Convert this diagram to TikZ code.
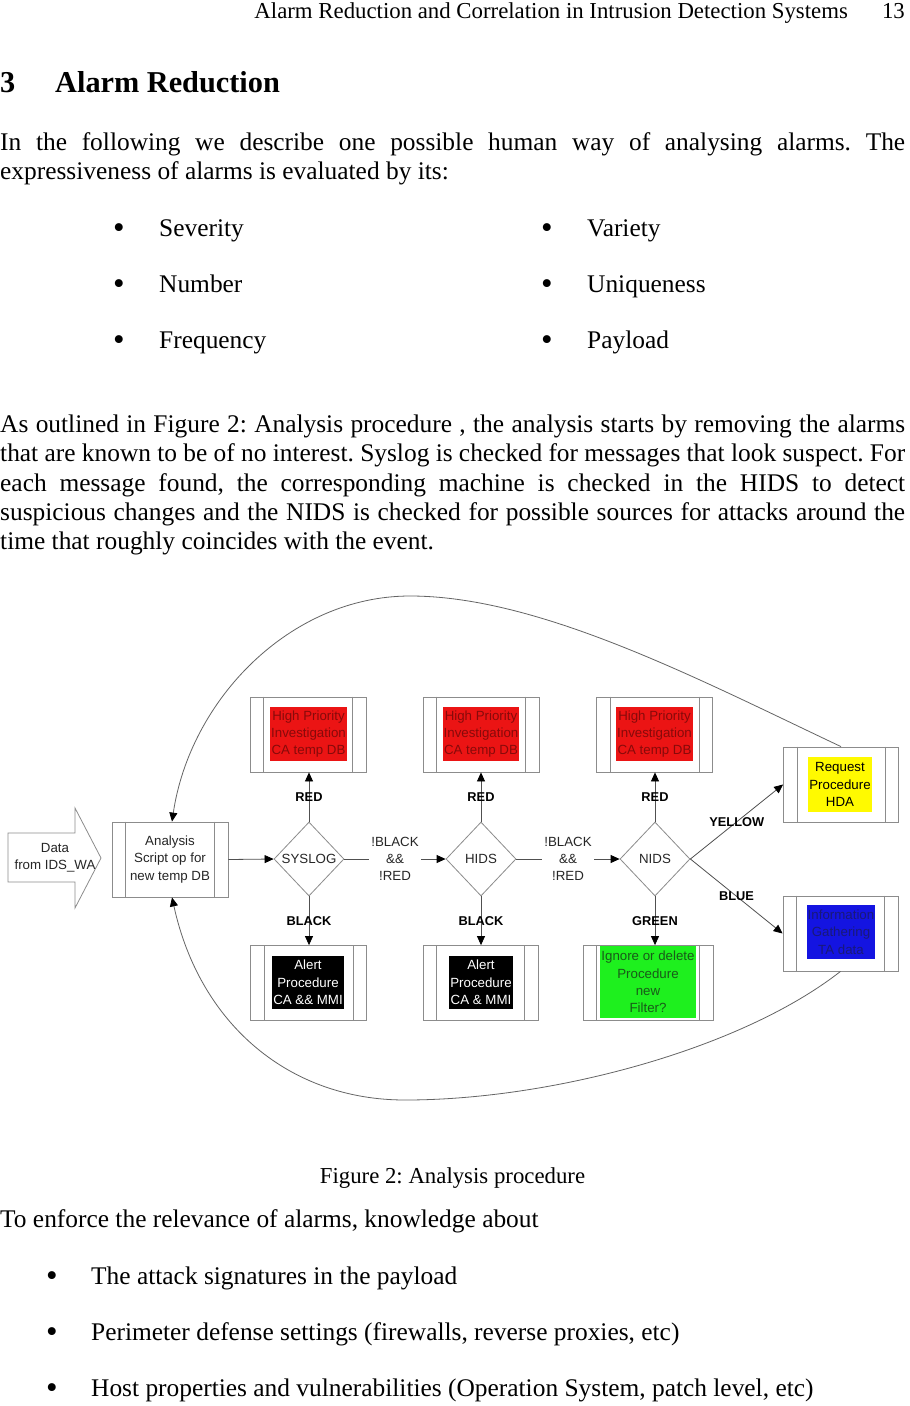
\documentclass[tikz,border=0pt]{standalone}
\usepackage{fontspec}
\setmainfont{Liberation Serif}
\newfontfamily\arial{Liberation Sans}
\usetikzlibrary{shapes.geometric,arrows.meta}
\definecolor{boxgray}{RGB}{140,140,140}
\definecolor{lineg}{RGB}{80,80,80}
\definecolor{curveg}{RGB}{100,100,100}
\definecolor{redfill}{RGB}{235,20,20}
\definecolor{redtext}{RGB}{135,10,10}
\definecolor{yelfill}{RGB}{255,250,0}
\definecolor{bluefill}{RGB}{20,20,225}
\definecolor{bluetext}{RGB}{25,25,120}
\definecolor{grnfill}{RGB}{30,240,30}
\definecolor{grntext}{RGB}{25,90,25}
\newcommand\bodyfont{\fontsize{25.4}{29.3}\selectfont}
\newcommand\capfont{\fontsize{22.8}{26}\selectfont}
\newcommand\diafont{\arial\fontsize{13.3}{17.3}\selectfont}
\newcommand\labfont{\arial\bfseries\fontsize{12.8}{15}\selectfont}
\newcommand\bigbullet{\raisebox{-2pt}{\fontsize{33}{33}\selectfont\textbullet}}
\newcommand\innerlines[2]{%
  \draw[boxline] ([xshift=#2]#1.north west) -- ([xshift=#2]#1.south west)
                 ([xshift=-#2]#1.north east) -- ([xshift=-#2]#1.south east);}
\frenchspacing
\begin{document}
\begin{tikzpicture}[x=1pt,y=-1pt,
  txt/.style={anchor=base west,inner sep=0pt,font=\bodyfont},
  boxline/.style={draw=boxgray,line width=0.8pt},
  pbox/.style={draw=boxgray,line width=0.8pt,minimum width=116pt,minimum height=75pt,inner sep=0pt},
  colbox/.style={inner sep=0pt,align=center,font=\diafont},
  dia/.style={diamond,draw=boxgray,line width=0.8pt,minimum width=70pt,minimum height=74pt,inner sep=0pt,font=\diafont,text=black!85},
  conn/.style={draw=lineg,line width=0.8pt,-{Triangle[length=9pt,width=8pt,color=black]}},
  curve/.style={draw=curveg,line width=0.8pt,-{Triangle[length=9pt,width=8pt,color=black]}},
  lab/.style={font=\labfont,inner sep=1pt,text=black},
  hlab/.style={font=\diafont,fill=white,inner sep=2pt,align=center,text=black!85}]
\useasboundingbox (0,0) rectangle (910,1406);
\fill[white] (0,0) rectangle (910,1406);

% header
\node[anchor=base east,inner sep=0pt,font=\capfont] (hdr) at (848,18) {Alarm Reduction and Correlation in Intrusion Detection Systems};
\node[anchor=base east,inner sep=0pt,font=\capfont] (pgno) at (905,18) {13};
\node[anchor=base west,inner sep=0pt,font=\bfseries\fontsize{30.3}{36}\selectfont] (secno) at (0,92) {3};
\node[anchor=base west,inner sep=0pt,font=\bfseries\fontsize{30.3}{36}\selectfont] (sectitle) at (55,92) {Alarm Reduction};

% paragraph 1
\node[txt] (p1a) at (0,150) {\makebox[905pt][s]{In the following we describe one possible human way of analysing alarms. The}};
\node[txt] (p1b) at (0,179) {expressiveness of alarms is evaluated by its:};

% bullets
\node[txt,anchor=base] (b1) at (119,236) {\bigbullet};
\node[txt] (b1t) at (159,236) {Severity};
\node[txt,anchor=base] (b2) at (119,292) {\bigbullet};
\node[txt] (b2t) at (159,292) {Number};
\node[txt,anchor=base] (b3) at (119,348) {\bigbullet};
\node[txt] (b3t) at (159,348) {Frequency};
\node[txt,anchor=base] (b4) at (547,236) {\bigbullet};
\node[txt] (b4t) at (587,236) {Variety};
\node[txt,anchor=base] (b5) at (547,292) {\bigbullet};
\node[txt] (b5t) at (587,292) {Uniqueness};
\node[txt,anchor=base] (b6) at (547,348) {\bigbullet};
\node[txt] (b6t) at (587,348) {Payload};

% paragraph 2
\node[txt] (p2a) at (0,432) {\makebox[905pt][s]{As outlined in Figure 2: Analysis procedure , the analysis starts by removing the alarms}};
\node[txt] (p2b) at (0,461) {\makebox[905pt][s]{that are known to be of no interest. Syslog is checked for messages that look suspect. For}};
\node[txt] (p2c) at (0,491) {\makebox[905pt][s]{each message found, the corresponding machine is checked in the HIDS to detect}};
\node[txt] (p2d) at (0,520) {\makebox[905pt][s]{suspicious changes and the NIDS is checked for possible sources for attacks around the}};
\node[txt] (p2e) at (0,549) {time that roughly coincides with the event.};

% ---------- diagram ----------
% data arrow
\draw[boxline,fill=white] (8,833) -- (75,833) -- (75,808) -- (101,858) -- (75,908) -- (75,882) -- (8,882) -- cycle;
\node[font=\diafont,align=center,inner sep=0pt,text=black!85] (data) at (55,858) {Data\\from IDS\_WA};

% analysis box
\node[pbox] (ana) at (170,859.5) {};
\innerlines{ana}{14pt}
\node[colbox,text=black!85] (anat) at (170,859.5) {Analysis\\Script op for\\new temp DB};

% diamonds
\node[dia] (sys) at (309,859) {SYSLOG};
\node[dia] (hids) at (481,859) {HIDS};
\node[dia] (nids) at (655,859) {NIDS};

% top red boxes
\node[pbox] (r1) at (308,734.5) {};
\innerlines{r1}{14pt}
\node[colbox,fill=redfill,text=redtext,minimum width=77pt,minimum height=54pt] (r1t) at (308.5,734) {High Priority\\Investigation\\CA temp DB};
\node[pbox] (r2) at (481,734.5) {};
\innerlines{r2}{14pt}
\node[colbox,fill=redfill,text=redtext,minimum width=76pt,minimum height=54pt] (r2t) at (481,734) {High Priority\\Investigation\\CA temp DB};
\node[pbox] (r3) at (654.5,734.5) {};
\innerlines{r3}{14pt}
\node[colbox,fill=redfill,text=redtext,minimum width=77pt,minimum height=54pt] (r3t) at (654.5,734) {High Priority\\Investigation\\CA temp DB};

% bottom boxes
\node[pbox] (k1) at (308.5,983) {};
\innerlines{k1}{14pt}
\node[colbox,fill=black,text=white,minimum width=72pt,minimum height=53pt] (k1t) at (308,982.5) {Alert\\Procedure\\CA \&\& MMI};
\node[pbox,minimum width=115pt] (k2) at (480.5,983) {};
\innerlines{k2}{14pt}
\node[colbox,fill=black,text=white,minimum width=64pt,minimum height=53pt] (k2t) at (481,982.5) {Alert\\Procedure\\CA \& MMI};
\node[pbox,minimum width=130pt] (g) at (648,983) {};
\innerlines{g}{14pt}
\node[colbox,fill=grnfill,text=grntext,minimum width=96pt,minimum height=72pt] (gt) at (648,982) {Ignore or delete\\Procedure\\new\\Filter?};

% right boxes
\node[pbox,minimum width=115pt] (req) at (841,784.5) {};
\innerlines{req}{14pt}
\node[colbox,fill=yelfill,text=black,minimum width=64pt,minimum height=55pt] (reqt) at (840,784.5) {Request\\Procedure\\HDA};
\node[pbox,minimum width=115pt] (info) at (840.5,933.5) {};
\innerlines{info}{14pt}
\node[colbox,fill=bluefill,text=bluetext,minimum width=68pt,minimum height=54pt] (infot) at (841,932) {Information\\Gathering\\TA data};

% connectors
\draw[conn] (ana.east) -- (sys.west);
\draw[conn] (sys.east) -- node[hlab] (l1) {!BLACK\\\&\&\\!RED} (hids.west);
\draw[conn] (hids.east) -- node[hlab] (l2) {!BLACK\\\&\&\\!RED} (nids.west);
\draw[conn] (sys.north) -- node[lab] (l3) {RED} (sys.north |- r1.south);
\draw[conn] (hids.north) -- node[lab] (l4) {RED} (hids.north |- r2.south);
\draw[conn] (nids.north) -- node[lab] (l5) {RED} (nids.north |- r3.south);
\draw[conn] (sys.south) -- node[lab] (l6) {BLACK} (sys.south |- k1.north);
\draw[conn] (hids.south) -- node[lab] (l7) {BLACK} (hids.south |- k2.north);
\draw[conn] (nids.south) -- node[lab] (l8) {GREEN} (nids.south |- g.north);
\draw[conn] (nids.east) -- node[lab] (l9) {YELLOW} (req.west);
\draw[conn] (nids.east) -- node[lab] (l10) {BLUE} (info.west);

% feedback curves
\draw[curve] (req.north) .. controls (700,680) and (540,596) .. (410,596)
  .. controls (290,596) and (190,700) .. ([xshift=2pt]ana.north);
\draw[curve] (info.south) .. controls (740,1050) and (550,1100) .. (405,1100)
  .. controls (290,1100) and (200,1025) .. ([xshift=2pt]ana.south);

% caption and following text
\node[anchor=base,inner sep=0pt,font=\capfont] (cap) at (452.5,1183) {Figure 2: Analysis procedure};
\node[txt] (p3) at (0,1227) {To enforce the relevance of alarms, knowledge about};
\node[txt,anchor=base] (c1) at (52,1284) {\bigbullet};
\node[txt] (c1t) at (91,1284) {The attack signatures in the payload};
\node[txt,anchor=base] (c2) at (52,1340) {\bigbullet};
\node[txt] (c2t) at (91,1340) {Perimeter defense settings (firewalls, reverse proxies, etc)};
\node[txt,anchor=base] (c3) at (52,1396) {\bigbullet};
\node[txt] (c3t) at (91,1396) {Host properties and vulnerabilities (Operation System, patch level, etc)};
\end{tikzpicture}
\end{document}
